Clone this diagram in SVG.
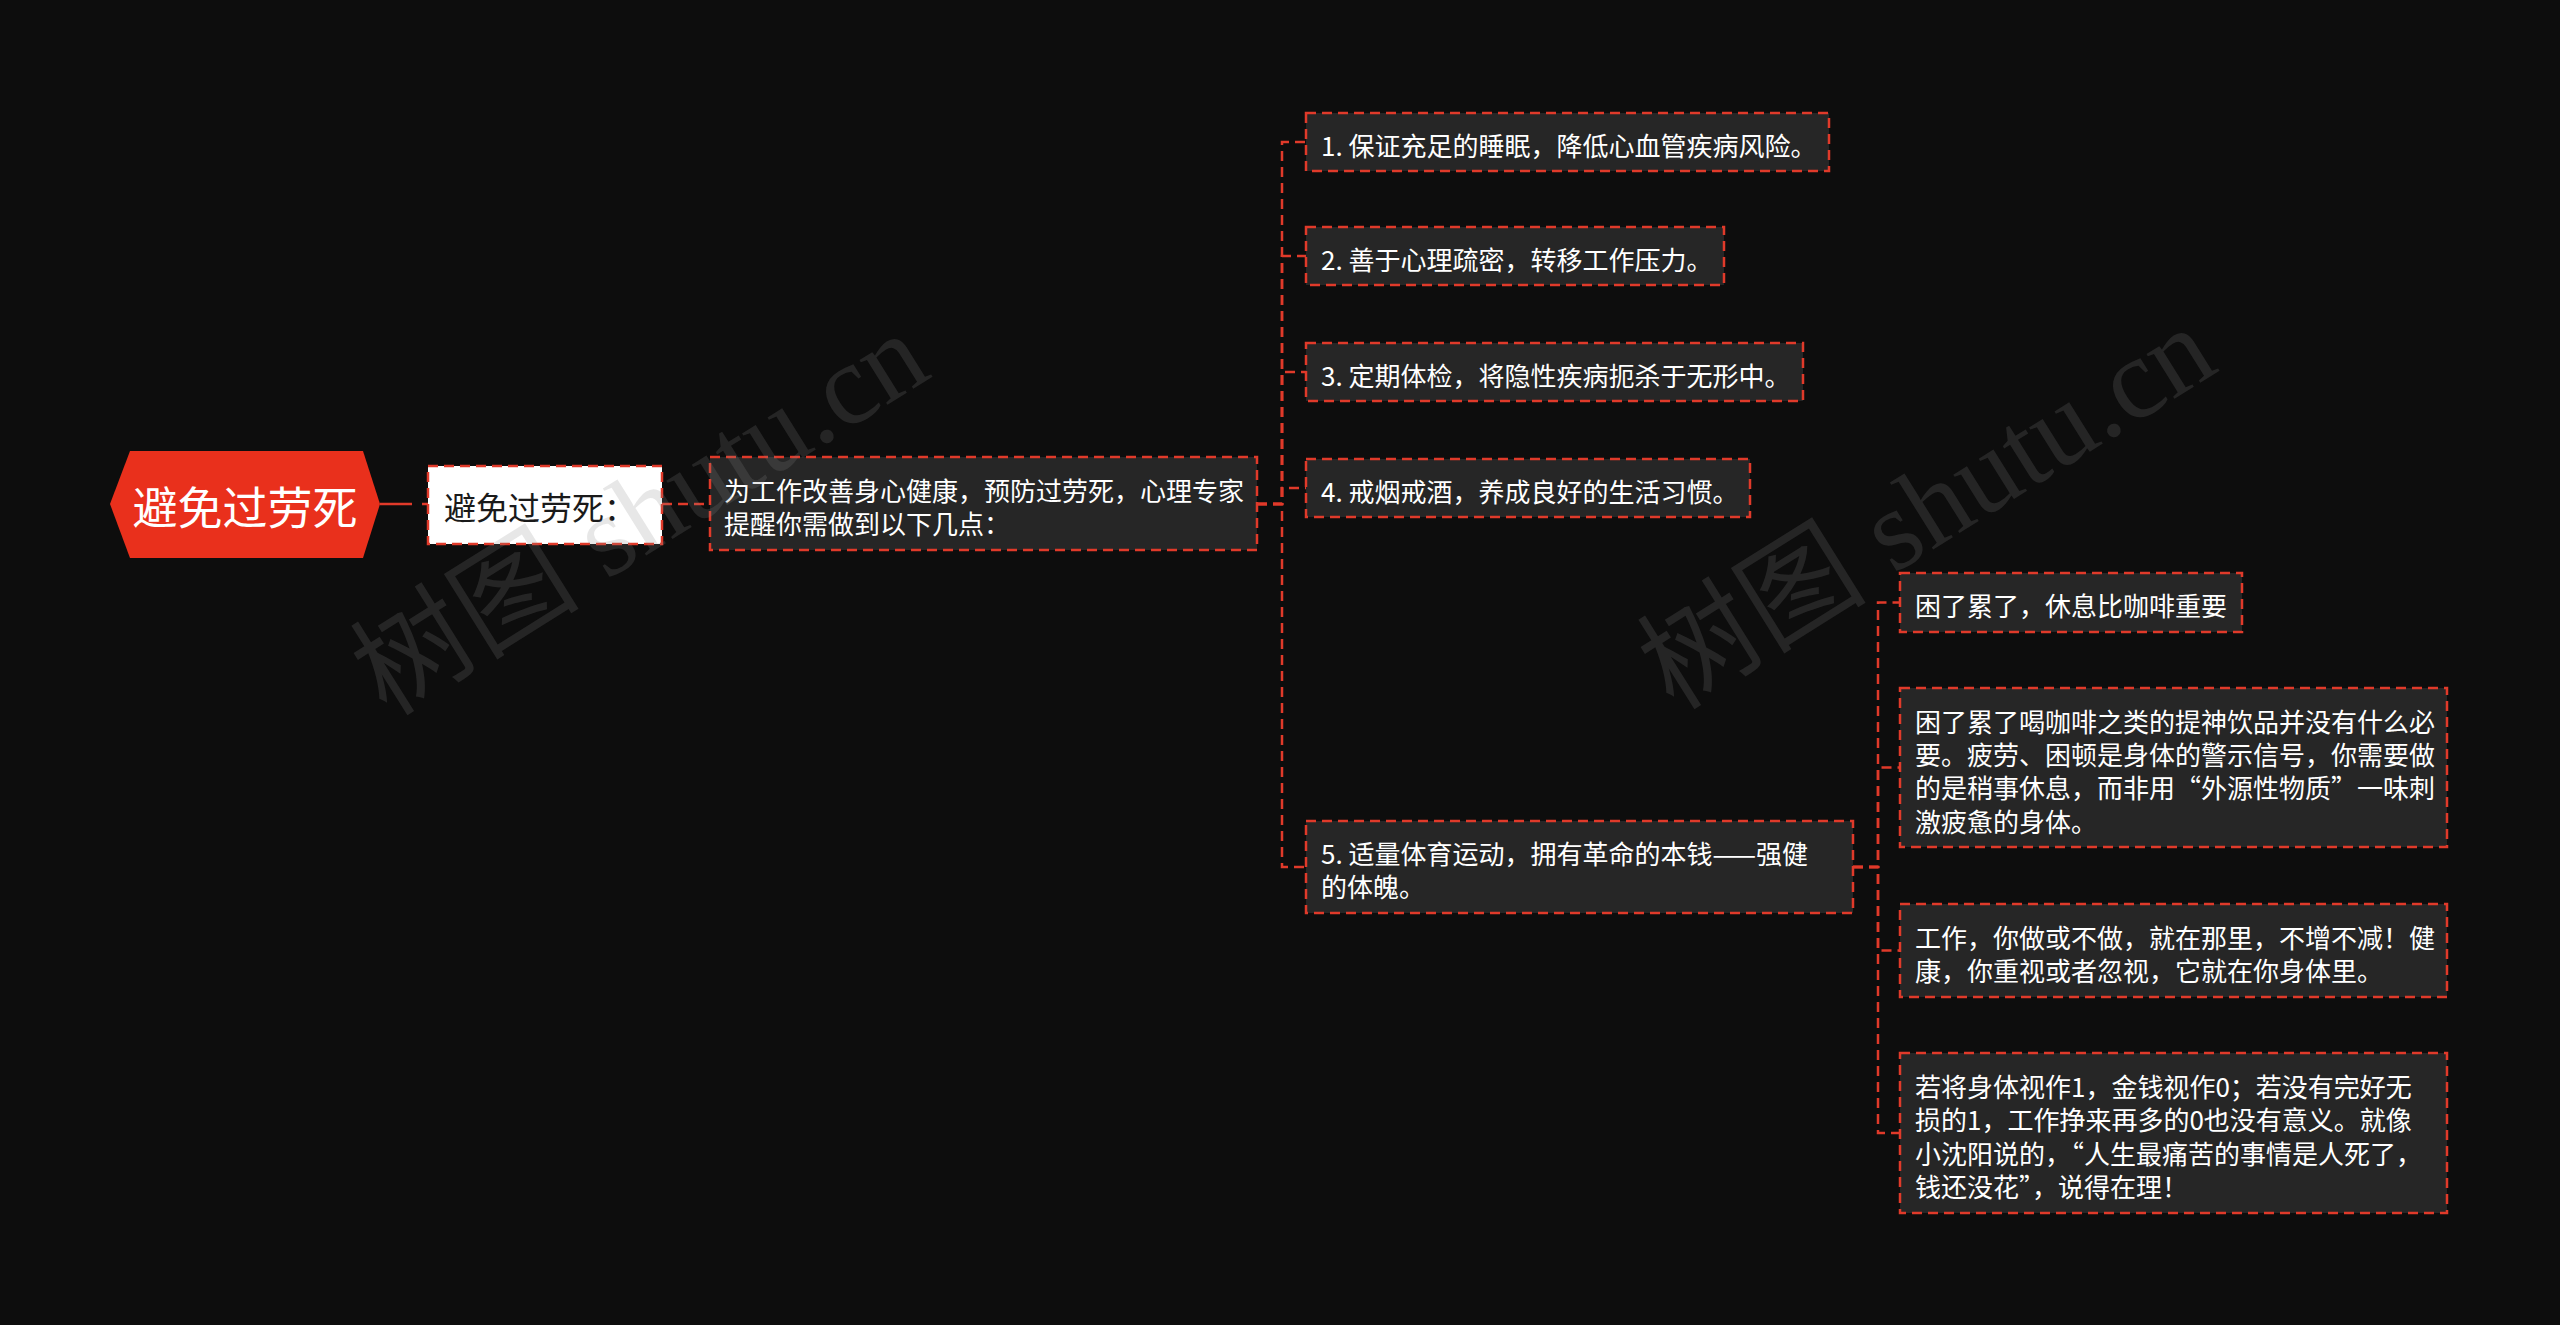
<svg xmlns="http://www.w3.org/2000/svg" width="2560" height="1325" viewBox="0 0 2560 1325">
<style>
.bg{fill:#0d0d0d}
.box{fill:#262626;stroke:#e03a2a;stroke-width:2.5;stroke-dasharray:10 6}
.wbox{fill:#ffffff;stroke:#e03a2a;stroke-width:2.5;stroke-dasharray:10 6}
.t{font-family:"Noto Sans CJK SC","Noto Sans",sans-serif;font-size:26px;fill:#ffffff;dominant-baseline:central}
.conn{fill:none;stroke:#e03a2a;stroke-width:2.5;stroke-dasharray:10 6}
.wm{font-family:"Liberation Serif","Noto Sans CJK SC",serif;font-size:115px;fill:#888888;fill-opacity:0.2;text-anchor:middle;dominant-baseline:central}
</style>
<rect class="bg" x="0" y="0" width="2560" height="1325"/>
<g id="connectors">
<path class="conn" d="M380 504 H428" style="stroke-dasharray:32 10"/>
<path class="conn" d="M662 504 H710"/>
<path class="conn" d="M1257 504 H1282 V142 H1306"/>
<path class="conn" d="M1257 504 H1282 V256 H1306"/>
<path class="conn" d="M1257 504 H1282 V372 H1306"/>
<path class="conn" d="M1257 504 H1282 V488 H1306"/>
<path class="conn" d="M1257 504 H1282 V867 H1306"/>
<path class="conn" d="M1853 867 H1878 V602.5 H1900"/>
<path class="conn" d="M1853 867 H1878 V767.5 H1900"/>
<path class="conn" d="M1853 867 H1878 V950.5 H1900"/>
<path class="conn" d="M1853 867 H1878 V1133 H1900"/>
</g>
<g id="root">
<polygon points="110,504 130,451 363,451 380,504 363,558 130,558" fill="#e9301c"/>
<text class="t" x="245" y="505" text-anchor="middle" style="font-size:45px">避免过劳死</text>
</g>
<g id="n2">
<rect class="wbox" x="428" y="466" width="234" height="78"/>
<text class="t" x="444" y="506" style="font-size:32px;fill:#1a1a1a">避免过劳死：</text>
</g>
<g id="n3">
<rect class="box" x="710" y="457" width="547" height="93"/>
<text class="t" x="724" y="489">为工作改善身心健康，预防过劳死，心理专家</text>
<text class="t" x="724" y="522">提醒你需做到以下几点：</text>
</g>
<g id="n4-1">
<rect class="box" x="1306" y="113" width="523" height="58"/>
<text class="t" x="1321" y="144">1. 保证充足的睡眠，降低心血管疾病风险。</text>
</g>
<g id="n4-2">
<rect class="box" x="1306" y="227" width="418" height="58"/>
<text class="t" x="1321" y="258">2. 善于心理疏密，转移工作压力。</text>
</g>
<g id="n4-3">
<rect class="box" x="1306" y="343" width="497" height="58"/>
<text class="t" x="1321" y="374">3. 定期体检，将隐性疾病扼杀于无形中。</text>
</g>
<g id="n4-4">
<rect class="box" x="1306" y="459" width="444" height="58"/>
<text class="t" x="1321" y="490">4. 戒烟戒酒，养成良好的生活习惯。</text>
</g>
<g id="n4-5">
<rect class="box" x="1306" y="821" width="547" height="92"/>
<text class="t" x="1321" y="852">5. 适量体育运动，拥有革命的本钱——强健</text>
<text class="t" x="1321" y="885">的体魄。</text>
</g>
<g id="n5-1">
<rect class="box" x="1900" y="573" width="342" height="59"/>
<text class="t" x="1915" y="604">困了累了，休息比咖啡重要</text>
</g>
<g id="n5-2">
<rect class="box" x="1900" y="688" width="547" height="159"/>
<text class="t" x="1915" y="720">困了累了喝咖啡之类的提神饮品并没有什么必</text>
<text class="t" x="1915" y="753">要。疲劳、困顿是身体的警示信号，你需要做</text>
<text class="t" x="1915" y="786">的是稍事休息，而非用“外源性物质”一味刺</text>
<text class="t" x="1915" y="820">激疲惫的身体。</text>
</g>
<g id="n5-3">
<rect class="box" x="1900" y="904" width="547" height="93"/>
<text class="t" x="1915" y="936">工作，你做或不做，就在那里，不增不减！健</text>
<text class="t" x="1915" y="969">康，你重视或者忽视，它就在你身体里。</text>
</g>
<g id="n5-4">
<rect class="box" x="1900" y="1053" width="547" height="160"/>
<text class="t" x="1915" y="1085">若将身体视作1，金钱视作0；若没有完好无</text>
<text class="t" x="1915" y="1118">损的1，工作挣来再多的0也没有意义。就像</text>
<text class="t" x="1915" y="1152">小沈阳说的，“人生最痛苦的事情是人死了，</text>
<text class="t" x="1915" y="1185">钱还没花”，说得在理！</text>
</g>
<g id="watermark">
<text class="wm" transform="rotate(-32 640 514)" x="640" y="514">树图 shutu.cn</text>
<text class="wm" transform="rotate(-32 1927 508)" x="1927" y="508">树图 shutu.cn</text>
</g>
</svg>
